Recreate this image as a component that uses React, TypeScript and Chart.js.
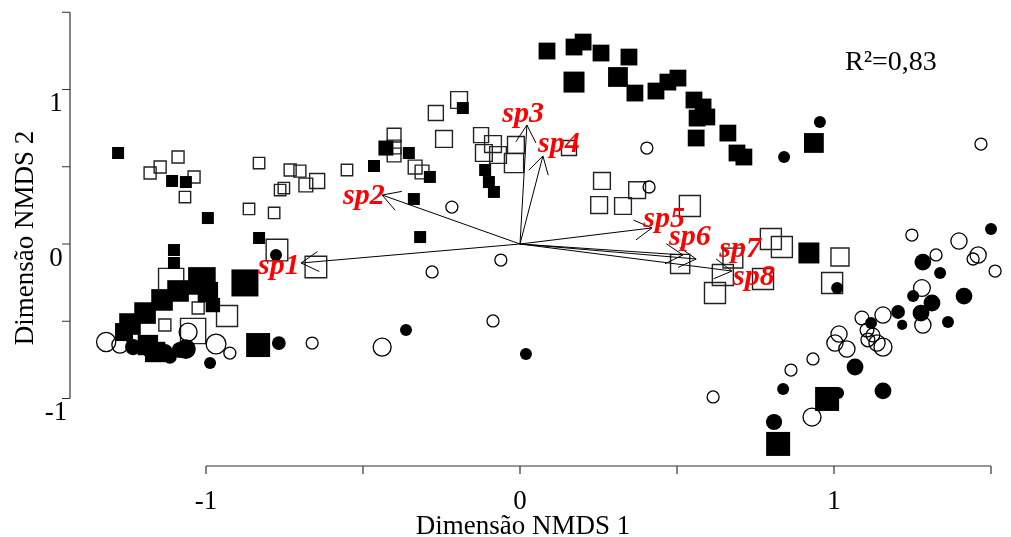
import React, { useEffect, useRef } from "react";
import { Chart, registerables } from "chart.js";

Chart.register(...registerables);

// [NMDS1, NMDS2, relative size (cex)]
const filledSquares: [number, number, number][] = [
  [-1.28, 0.589, 1.0], [-1.108, 0.408, 1.0], [-1.064, 0.401, 1.0], [-0.994, 0.168, 1.0],
  [-0.831, 0.039, 1.0], [-1.102, -0.039, 1.0], [-1.102, -0.123, 1.0], [-1.013, -0.239, 2.3],
  [-0.994, -0.311, 1.7], [-0.876, -0.252, 2.25], [-1.089, -0.304, 1.8], [-1.14, -0.362, 1.8],
  [-1.194, -0.447, 1.8], [-1.242, -0.518, 1.8], [-1.261, -0.57, 1.5], [-0.978, -0.395, 1.2],
  [-1.185, -0.654, 1.7], [-1.162, -0.699, 1.7], [-0.834, -0.654, 2.0], [-0.465, 0.505, 1.0],
  [-0.427, 0.621, 1.25], [-0.354, 0.589, 1.0], [-0.287, 0.434, 1.0], [-0.338, 0.291, 1.0],
  [-0.318, 0.045, 1.0], [-0.182, 0.88, 1.0], [-0.111, 0.479, 1.0], [-0.099, 0.401, 1.0],
  [-0.083, 0.337, 1.0], [0.086, 1.249, 1.4], [0.172, 1.275, 1.4], [0.201, 1.307, 1.4],
  [0.258, 1.236, 1.4], [0.347, 1.21, 1.4], [0.172, 1.048, 1.75], [0.312, 1.081, 1.65],
  [0.366, 0.977, 1.4], [0.433, 0.99, 1.4], [0.471, 1.048, 1.4], [0.503, 1.074, 1.4],
  [0.554, 0.932, 1.4], [0.583, 0.887, 1.4], [0.595, 0.822, 1.4], [0.564, 0.815, 1.4],
  [0.561, 0.686, 1.4], [0.662, 0.718, 1.4], [0.691, 0.589, 1.4], [0.713, 0.563, 1.4],
  [0.936, 0.654, 1.65], [0.92, -0.058, 1.75], [0.978, -1.003, 2.0], [0.822, -1.294, 2.0],
];

const openSquares: [number, number, number][] = [
  [-1.178, 0.46, 1.0], [-1.146, 0.498, 1.0], [-1.089, 0.563, 1.0], [-1.038, 0.434, 1.0],
  [-1.067, 0.304, 0.95], [-0.831, 0.524, 0.95], [-0.863, 0.227, 0.95], [-0.783, 0.201, 0.95],
  [-0.764, 0.349, 0.95], [-0.752, 0.362, 0.95], [-0.732, 0.479, 1.0], [-0.701, 0.472, 1.0],
  [-0.682, 0.382, 1.15], [-0.646, 0.408, 1.25], [-0.774, -0.039, 1.8], [-0.65, -0.149, 1.8],
  [-1.111, -0.239, 2.1], [-0.933, -0.466, 1.75], [-1.025, -0.414, 1.0], [-1.041, -0.563, 2.1],
  [-1.131, -0.524, 1.0], [-0.551, 0.479, 0.95], [-0.401, 0.705, 1.15], [-0.401, 0.628, 1.15],
  [-0.401, 0.576, 1.15], [-0.334, 0.498, 1.15], [-0.312, 0.466, 1.15], [-0.242, 0.68, 1.4],
  [-0.268, 0.848, 1.25], [-0.194, 0.932, 1.4], [-0.124, 0.705, 1.25], [-0.086, 0.647, 1.4],
  [-0.115, 0.589, 1.4], [-0.07, 0.576, 1.4], [-0.013, 0.641, 1.4], [-0.019, 0.524, 1.6],
  [0.156, 0.621, 1.25], [0.261, 0.408, 1.4], [0.252, 0.252, 1.4], [0.328, 0.246, 1.4],
  [0.373, 0.349, 1.4], [0.541, 0.246, 1.75], [0.51, -0.129, 1.6], [0.678, -0.091, 1.65],
  [0.646, -0.201, 1.75], [0.621, -0.317, 1.75], [0.774, -0.227, 1.75], [0.799, 0.032, 1.75],
  [0.834, -0.019, 1.75], [1.019, -0.084, 1.5], [0.994, -0.252, 1.75],
];

const filledCircles: [number, number, number][] = [
  [-0.777, -0.071, 1.0], [-1.232, -0.667, 1.35], [-1.178, -0.686, 1.35], [-1.131, -0.699, 1.35],
  [-1.083, -0.686, 1.35], [-1.064, -0.68, 1.65], [-1.115, -0.731, 1.15], [-0.987, -0.77, 1.0],
  [-0.768, -0.641, 1.15], [-0.363, -0.557, 1.0], [0.019, -0.712, 1.0], [0.955, 0.79, 1.0],
  [0.841, 0.563, 1.0], [1.01, -0.285, 1.0], [1.5, 0.097, 1.0], [1.283, -0.117, 1.4],
  [1.338, -0.188, 1.0], [1.252, -0.337, 1.0], [1.312, -0.382, 1.4], [1.414, -0.337, 1.4],
  [1.204, -0.44, 1.15], [1.277, -0.447, 1.4], [1.363, -0.505, 1.0], [1.217, -0.524, 0.85],
  [1.118, -0.511, 1.0], [1.067, -0.796, 1.4], [1.156, -0.951, 1.4], [0.838, -0.938, 1.0],
  [1.013, -0.964, 1.0], [0.809, -1.152, 1.35],
];

const openCircles: [number, number, number][] = [
  [-1.318, -0.634, 1.6], [-1.274, -0.654, 1.35], [-1.057, -0.57, 1.5], [-0.968, -0.647, 1.65],
  [-0.924, -0.706, 1.0], [-0.662, -0.641, 1.0], [-0.439, -0.667, 1.5], [-0.217, 0.239, 1.0],
  [-0.28, -0.181, 1.0], [-0.061, -0.104, 1.0], [-0.086, -0.498, 1.0], [0.404, 0.621, 1.0],
  [0.411, 0.369, 1.0], [1.468, 0.647, 1.0], [1.248, 0.058, 1.0], [1.398, 0.019, 1.35],
  [1.325, -0.071, 1.0], [1.459, -0.071, 1.35], [1.443, -0.097, 1.0], [1.513, -0.175, 1.0],
  [1.28, -0.285, 1.4], [1.283, -0.524, 1.35], [1.089, -0.479, 1.15], [1.156, -0.46, 1.35],
  [1.105, -0.557, 1.15], [1.124, -0.589, 1.15], [1.108, -0.621, 1.15], [1.156, -0.667, 1.5],
  [1.137, -0.641, 1.35], [1.016, -0.583, 1.35], [1.003, -0.641, 1.35], [1.041, -0.68, 1.35],
  [0.933, -0.744, 1.0], [0.863, -0.816, 1.0], [0.615, -0.99, 1.0], [0.93, -1.12, 1.5],
];

// species vectors (envfit-like arrows)
const speciesNames = ["sp1", "sp2", "sp3", "sp4", "sp5", "sp6", "sp7", "sp8"];
const vectorX = [-0.697, -0.439, 0.022, 0.073, 0.42, 0.519, 0.561, 0.675];
const vectorY = [-0.123, 0.317, 0.77, 0.57, 0.104, -0.071, -0.097, -0.175];
const labelX = [-0.768, -0.497, 0.01, 0.124, 0.459, 0.541, 0.701, 0.745];
const labelY = [-0.194, 0.259, 0.79, 0.595, 0.11, -0.006, -0.084, -0.265];

const xTicks = [-1, -0.5, 0, 0.5, 1, 1.5];
const xTickLabels = ["-1", "", "0", "", "1", ""];
const yTicks = [-1, -0.5, 0, 0.5, 1, 1.5];
const yTickLabels = ["-1", "", "0", "", "1", ""];
const xTitle = "Dimensão NMDS 1";
const yTitle = "Dimensão NMDS 2";
const fitText = "R²=0,83";
const fitPos = [1.035, 1.126];

const SERIF = '"Liberation Serif", "Times New Roman", serif';
const UNIT = 12; // px per cex unit

const toPts = (arr: [number, number, number][]) => arr.map(([x, y, s]) => ({ x, y, s }));

const decorPlugin = {
  id: "decor",
  afterDatasetsDraw(chart: any) {
    const { ctx, chartArea } = chart;
    const xs = chart.scales.x;
    const ys = chart.scales.y;
    ctx.save();
    // arrows
    ctx.strokeStyle = "#000";
    ctx.lineWidth = 1;
    const x0 = xs.getPixelForValue(0);
    const y0 = ys.getPixelForValue(0);
    vectorX.forEach((vx, i) => {
      const px = xs.getPixelForValue(vx);
      const py = ys.getPixelForValue(vectorY[i]);
      const ang = Math.atan2(py - y0, px - x0);
      const L = 20;
      const a = Math.PI / 6;
      ctx.beginPath();
      ctx.moveTo(x0, y0);
      ctx.lineTo(px, py);
      ctx.moveTo(px - L * Math.cos(ang - a), py - L * Math.sin(ang - a));
      ctx.lineTo(px, py);
      ctx.lineTo(px - L * Math.cos(ang + a), py - L * Math.sin(ang + a));
      ctx.stroke();
    });
    // species labels
    ctx.fillStyle = "#ff0000";
    ctx.font = `italic bold 30px ${SERIF}`;
    ctx.textAlign = "center";
    ctx.textBaseline = "alphabetic";
    speciesNames.forEach((n, i) => {
      ctx.fillText(n, xs.getPixelForValue(labelX[i]), ys.getPixelForValue(labelY[i]));
    });

    // axes
    ctx.strokeStyle = "#333";
    ctx.lineWidth = 1.2;
    ctx.fillStyle = "#000";
    ctx.font = `27px ${SERIF}`;
    // x axis
    const xb = chartArea.bottom;
    ctx.beginPath();
    ctx.moveTo(xs.getPixelForValue(xTicks[0]), xb);
    ctx.lineTo(xs.getPixelForValue(xTicks[xTicks.length - 1]), xb);
    xTicks.forEach((t) => {
      const p = xs.getPixelForValue(t);
      ctx.moveTo(p, xb);
      ctx.lineTo(p, xb + 8);
    });
    ctx.stroke();
    ctx.textAlign = "center";
    ctx.textBaseline = "top";
    xTicks.forEach((t, i) => {
      if (xTickLabels[i]) ctx.fillText(xTickLabels[i], xs.getPixelForValue(t), xb + 22);
    });
    // y axis
    const yl = chartArea.left;
    ctx.beginPath();
    ctx.moveTo(yl, ys.getPixelForValue(yTicks[0]));
    ctx.lineTo(yl, ys.getPixelForValue(yTicks[yTicks.length - 1]));
    yTicks.forEach((t) => {
      const p = ys.getPixelForValue(t);
      ctx.moveTo(yl, p);
      ctx.lineTo(yl - 8, p);
    });
    ctx.stroke();
    ctx.textAlign = "center";
    ctx.textBaseline = "top";
    yTicks.forEach((t, i) => {
      if (yTickLabels[i]) ctx.fillText(yTickLabels[i], yl - 14, ys.getPixelForValue(t) + 1);
    });
    // titles
    ctx.textBaseline = "alphabetic";
    ctx.textAlign = "center";
    ctx.fillText(xTitle, 523, 534);
    ctx.save();
    ctx.translate(33, (chartArea.top + chartArea.bottom) / 2);
    ctx.rotate(-Math.PI / 2);
    ctx.fillText(yTitle, 0, 0);
    ctx.restore();
    // fit statistic
    ctx.textAlign = "left";
    ctx.font = `28px ${SERIF}`;
    ctx.fillText(fitText, xs.getPixelForValue(fitPos[0]), ys.getPixelForValue(fitPos[1]));
    ctx.restore();
  },
};

export default function App() {
  const ref = useRef<HTMLCanvasElement | null>(null);
  useEffect(() => {
    if (!ref.current) return;
    const sqR = (c: any) => (c.raw ? (c.raw.s * UNIT) / (2 * Math.SQRT1_2) : 0);
    const ciR = (c: any) => (c.raw ? (c.raw.s * UNIT) / 2 : 0);
    const chart = new Chart(ref.current, {
      type: "scatter",
      data: {
        datasets: [
          {
            label: "filled circles",
            data: toPts(filledCircles),
            pointStyle: "circle",
            pointRadius: ciR,
            backgroundColor: "#000",
            borderColor: "#000",
            borderWidth: 0,
            clip: false,
          },
          {
            label: "filled squares",
            data: toPts(filledSquares),
            pointStyle: "rect",
            pointRadius: sqR,
            backgroundColor: "#000",
            borderColor: "#000",
            borderWidth: 0,
            clip: false,
          },
          {
            label: "open circles",
            data: toPts(openCircles),
            pointStyle: "circle",
            pointRadius: ciR,
            backgroundColor: "rgba(0,0,0,0)",
            borderColor: "#000",
            borderWidth: 1.3,
            clip: false,
          },
          {
            label: "open squares",
            data: toPts(openSquares),
            pointStyle: "rect",
            pointRadius: sqR,
            backgroundColor: "rgba(0,0,0,0)",
            borderColor: "#222",
            borderWidth: 1.4,
            clip: false,
          },
        ] as any,
      },
      options: {
        animation: false,
        responsive: false,
        events: [],
        layout: { autoPadding: false, padding: { left: 70, right: 8, top: 10, bottom: 71 } },
        plugins: { legend: { display: false }, tooltip: { enabled: false } },
        scales: {
          x: { type: "linear", min: -1.4331, max: 1.5382, display: false },
          y: { type: "linear", min: -1.4369, max: 1.5146, display: false },
        },
      },
      plugins: [decorPlugin],
    });
    return () => chart.destroy();
  }, []);
  return (
    <div style={{ position: "absolute", left: 0, top: 0, width: 1011, height: 537, background: "#fff" }}>
      <canvas ref={ref} width={1011} height={537} style={{ display: "block" }} />
    </div>
  );
}
